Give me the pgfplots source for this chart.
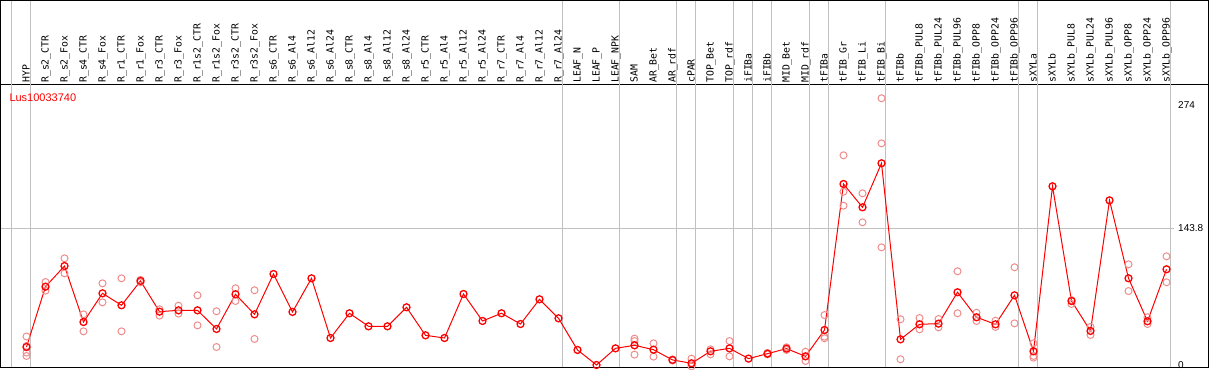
\documentclass[border=0pt]{standalone}
\usepackage{pgfplots}
\usepackage{pgfplotstable}
\pgfplotsset{compat=1.18}
\usepackage{fontspec}
\setmainfont{Liberation Sans}
\newfontfamily\labfont{DejaVu Sans Mono}
\definecolor{repc}{RGB}{238,140,140}
\definecolor{gridc}{RGB}{192,192,192}
\pgfplotstableread{
k v
0 18.9
1 82.4
2 104.1
3 45.2
4 75.4
5 62.8
6 88.4
7 56.1
8 57.5
9 57.5
10 37.9
11 74.4
12 53.3
13 95.7
14 55.8
15 91.2
16 28.4
17 54.4
18 40.7
19 40.7
20 60.7
21 31.2
22 28.4
23 74.7
24 46.3
25 54.4
26 43.1
27 69.1
28 49.1
29 15.8
30 0
31 17.5
32 20.7
33 16.1
34 5.3
35 1.8
36 14.4
37 17.5
38 6.7
39 11.9
40 17.2
41 9.1
42 36.8
43 190.4
44 165.9
45 212.2
46 27
47 42.8
48 43.5
49 76.5
50 50.2
51 42.8
52 73.3
53 14.4
54 188
55 67.3
56 35.8
57 173.2
58 91.2
59 46
60 100.7
}\means
\pgfplotstableread{
k v
0 30
0 20
0 13
0 9.5
1 87.3
1 78.2
2 112.2
2 96.4
3 53.3
3 35.4
4 85.9
4 65.9
5 91.2
5 35.4
6 89.5
6 87
7 58.6
7 51.9
8 62.4
8 54
9 73.3
9 41.7
10 56.5
10 18.9
11 80.7
11 67.3
12 78.6
12 27.4
32 27.7
32 25.2
32 10.9
33 22.8
33 8.8
34 5.8
34 4.8
35 6.7
35 -1.5
36 16.5
36 11.2
37 25.2
37 9.1
39 12.6
39 11.2
40 18.6
40 15.8
41 14
41 4.2
42 52.5
42 29.8
42 28.1
43 220.6
43 182.3
43 167.6
44 180.6
44 150.1
45 280.6
45 233.2
45 123.8
46 48.1
46 6
47 49.4
47 37.5
48 48.4
48 39.6
49 98.6
49 54.4
50 55
50 46.3
51 46.6
51 40
52 102.8
52 43.8
53 22.8
53 9.5
53 7.7
55 68.3
55 64.2
56 40
56 31.6
58 105.9
58 77.8
59 50.2
59 43.1
60 114.3
60 87
}\reps
\newcommand{\lab}[2]{\node[rotate=90, anchor=base west, inner sep=0pt, font=\labfont\fontsize{9.8bp}{10bp}\selectfont] at (axis cs:#1+0.158,296.7) {#2};}
\begin{document}
\begin{tikzpicture}
\begin{axis}[
 width=1207bp, height=283bp, scale only axis,
 xmin=-1.3421, xmax=62.1842, ymin=-3.156, ymax=294.55,
 xtick=\empty, ytick={0,143.8,274}, yticklabels={0,143.8,274},
 yticklabel pos=right, major tick length=0pt,
 yticklabel style={anchor=west, inner sep=0pt, xshift=-30bp, font=\fontsize{10bp}{12bp}\selectfont},
 axis line style={line width=1bp},
 clip=false,
]
\pgfplotsinvokeforeach{-1,0,28,31,34,35,37,38,39,41,42,45,52,53,60}{
 \draw[gridc, line width=1bp] (axis cs:#1+0.2105,-3.156) -- (axis cs:#1+0.2105,383.45);
}
\draw[gridc, line width=1bp] (axis cs:-1.3421,143.8) -- (axis cs:60.39,143.8);
\draw[line width=1bp] (axis cs:-1.3421,-3.156) rectangle (axis cs:62.1842,383.45);
\coordinate (BBsw) at (axis cs:-1.39474,-5.26);
\coordinate (BBne) at (axis cs:62.2368,383.97);
\addplot[only marks, mark=o, mark size=3.5bp, repc, mark options={line width=1bp}] table[x=k,y=v] {\reps};
\addplot[red, line width=1bp, mark=o, mark size=3.5bp, mark options={line width=1.3bp}] table[x=k,y=v] {\means};
\node[anchor=base west, inner sep=0pt, text=red, font=\fontsize{11bp}{13bp}\selectfont] at (axis cs:-0.905,277.4) {Lus10033740};
\lab{0}{HYP}
\lab{1}{R\_s2\_CTR}
\lab{2}{R\_s2\_Fox}
\lab{3}{R\_s4\_CTR}
\lab{4}{R\_s4\_Fox}
\lab{5}{R\_r1\_CTR}
\lab{6}{R\_r1\_Fox}
\lab{7}{R\_r3\_CTR}
\lab{8}{R\_r3\_Fox}
\lab{9}{R\_r1s2\_CTR}
\lab{10}{R\_r1s2\_Fox}
\lab{11}{R\_r3s2\_CTR}
\lab{12}{R\_r3s2\_Fox}
\lab{13}{R\_s6\_CTR}
\lab{14}{R\_s6\_Al4}
\lab{15}{R\_s6\_Al12}
\lab{16}{R\_s6\_Al24}
\lab{17}{R\_s8\_CTR}
\lab{18}{R\_s8\_Al4}
\lab{19}{R\_s8\_Al12}
\lab{20}{R\_s8\_Al24}
\lab{21}{R\_r5\_CTR}
\lab{22}{R\_r5\_Al4}
\lab{23}{R\_r5\_Al12}
\lab{24}{R\_r5\_Al24}
\lab{25}{R\_r7\_CTR}
\lab{26}{R\_r7\_Al4}
\lab{27}{R\_r7\_Al12}
\lab{28}{R\_r7\_Al24}
\lab{29}{LEAF\_N}
\lab{30}{LEAF\_P}
\lab{31}{LEAF\_NPK}
\lab{32}{SAM}
\lab{33}{AR\_Bet}
\lab{34}{AR\_rdf}
\lab{35}{cPAR}
\lab{36}{TOP\_Bet}
\lab{37}{TOP\_rdf}
\lab{38}{iFIBa}
\lab{39}{iFIBb}
\lab{40}{MID\_Bet}
\lab{41}{MID\_rdf}
\lab{42}{tFIBa}
\lab{43}{tFIB\_Gr}
\lab{44}{tFIB\_Li}
\lab{45}{tFIB\_Bi}
\lab{46}{tFIBb}
\lab{47}{tFIBb\_PUL8}
\lab{48}{tFIBb\_PUL24}
\lab{49}{tFIBb\_PUL96}
\lab{50}{tFIBb\_OPP8}
\lab{51}{tFIBb\_OPP24}
\lab{52}{tFIBb\_OPP96}
\lab{53}{sXYLa}
\lab{54}{sXYLb}
\lab{55}{sXYLb\_PUL8}
\lab{56}{sXYLb\_PUL24}
\lab{57}{sXYLb\_PUL96}
\lab{58}{sXYLb\_OPP8}
\lab{59}{sXYLb\_OPP24}
\lab{60}{sXYLb\_OPP96}
\end{axis}
\pgfresetboundingbox
\useasboundingbox (BBsw) rectangle (BBne);
\end{tikzpicture}
\end{document}
